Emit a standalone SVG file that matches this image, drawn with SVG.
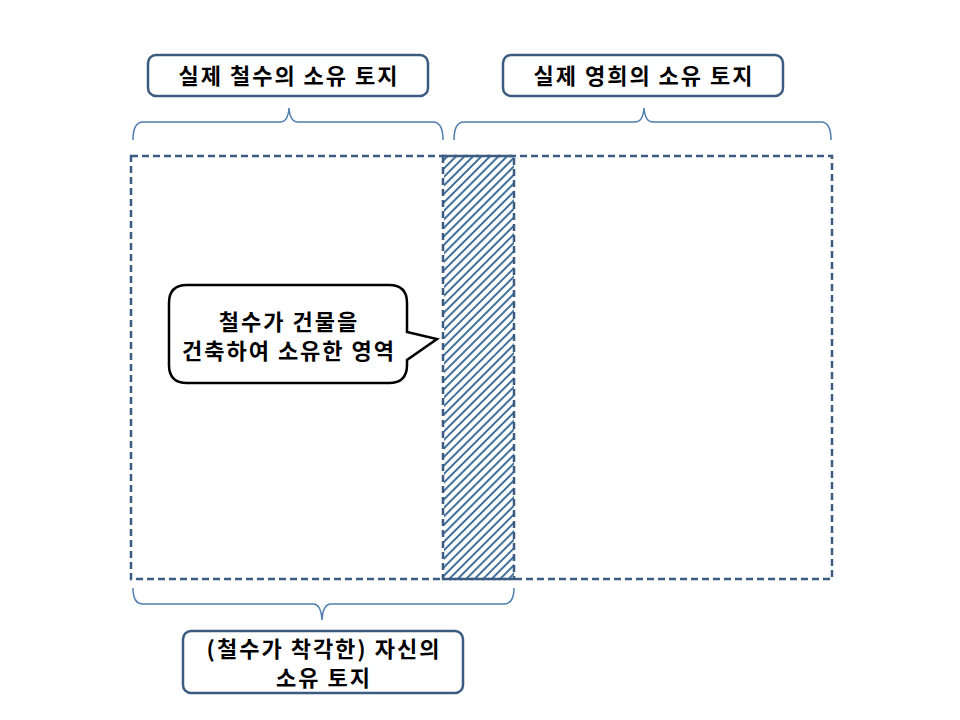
<svg xmlns="http://www.w3.org/2000/svg" width="960" height="720" viewBox="0 0 960 720">
<style>
.lbl{fill:#fff;stroke:#3b5b80;stroke-width:2.5}
.t{font-family:"Noto Sans CJK KR","Noto Sans",sans-serif;font-size:22px;font-weight:bold;fill:#000;text-anchor:middle;letter-spacing:2px}
.br{fill:none;stroke:#4f7eb1;stroke-width:1.5}
.dash{fill:none;stroke:#3b5b80;stroke-width:2.5;stroke-dasharray:7,4}
</style>
<defs>
<pattern id="h" patternUnits="userSpaceOnUse" width="6" height="6" patternTransform="rotate(45)">
<rect width="6" height="6" fill="#fff"/><rect width="2" height="6" fill="#41719c"/>
</pattern>
</defs>
<rect width="960" height="720" fill="#fff"/>
<g id="hatch"><rect x="444" y="156" width="70" height="424" fill="url(#h)"/></g>
<g id="connectors">
<path class="br" d="M133,140 Q133,122 143,122 L280,122 Q288,122 289,108 Q290,122 298,122 L433,122 Q443,122 443,140"/>
<path class="br" d="M454,140 Q454,122 464,122 L635,122 Q643,122 644,108 Q645,122 653,122 L821,122 Q831,122 831,140"/>
<path class="br" d="M133,588 Q133,604 143,604 L313,604 Q321,604 322,620 Q323,604 331,604 L504,604 Q514,604 514,588"/>
</g>
<g id="regions">
<rect class="dash" x="131" y="156" width="383" height="423"/>
<rect class="dash" x="443" y="156" width="389" height="423"/>
</g>
<g id="n1"><rect class="lbl" x="148" y="55" width="280" height="41" rx="8"/><text class="t" x="289" y="84">실제 철수의 소유 토지</text></g>
<g id="n2"><rect class="lbl" x="503" y="55" width="280" height="41" rx="8"/><text class="t" x="644" y="84">실제 영희의 소유 토지</text></g>
<g id="n3"><rect class="lbl" x="183" y="631" width="280" height="62" rx="8"/><text class="t" x="324" y="657" font-size="19">(철수가 착각한) 자신의</text><text class="t" x="324" y="686" font-size="19">소유 토지</text></g>
<g id="callout"><path d="M187,285 L389,285 Q407,285 407,303 L407,332 L437,339 L407,360 L407,365 Q407,383 389,383 L187,383 Q169,383 169,365 L169,303 Q169,285 187,285 Z" fill="#fff" stroke="#000" stroke-width="2.5"/>
<text class="t" x="289" y="330" font-size="20">철수가 건물을</text><text class="t" x="289" y="359" font-size="20">건축하여 소유한 영역</text></g>
</svg>
